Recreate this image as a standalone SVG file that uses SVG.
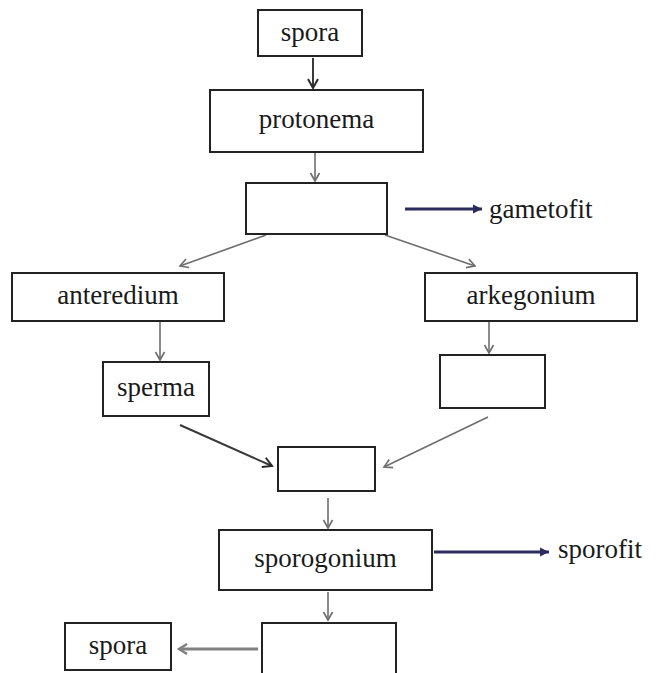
<svg xmlns="http://www.w3.org/2000/svg" width="657" height="673" viewBox="0 0 657 673">
<style>
.box{fill:#fff;stroke:#222;stroke-width:2}
.t{font-family:"Liberation Serif","Times New Roman",serif;font-size:27px;fill:#1a1a1a;text-anchor:middle}
.lbl{font-family:"Liberation Serif","Times New Roman",serif;font-size:27px;fill:#1a1a1a}
.g{stroke:#6e6e6e;stroke-width:1.6;fill:none;marker-end:url(#mg)}
.d{stroke:#3a3a3a;stroke-width:2;fill:none;marker-end:url(#md)}
.n{stroke:#2b2b5e;stroke-width:3;fill:none;marker-end:url(#mn)}
.gt{stroke:#808080;stroke-width:3.2;fill:none;marker-end:url(#mgt)}
</style>
<defs>
<marker id="mg" markerUnits="userSpaceOnUse" markerWidth="12" markerHeight="12" refX="10" refY="6" orient="auto"><path d="M2,1.5 L10,6 L2,10.5" fill="none" stroke="#6e6e6e" stroke-width="1.6"/></marker>
<marker id="md" markerUnits="userSpaceOnUse" markerWidth="14" markerHeight="14" refX="11" refY="7" orient="auto"><path d="M2,2 L11,7 L2,12" fill="none" stroke="#2a2a2a" stroke-width="2"/></marker>
<marker id="mn" markerUnits="userSpaceOnUse" markerWidth="12" markerHeight="12" refX="10" refY="6" orient="auto"><path d="M1,1.5 L10,6 L1,10.5 Z" fill="#2b2b5e"/></marker>
<marker id="mgt" markerUnits="userSpaceOnUse" markerWidth="14" markerHeight="14" refX="11" refY="7" orient="auto"><path d="M3,2 L11,7 L3,12" fill="none" stroke="#808080" stroke-width="2.4"/></marker>
</defs>
<rect width="657" height="673" fill="#fff"/>
<g id="connectors">
<line class="d" x1="313" y1="58" x2="313" y2="88"/>
<line class="g" x1="315" y1="153" x2="315" y2="181"/>
<line class="n" x1="405" y1="209" x2="482" y2="209"/>
<line class="g" x1="266" y1="235" x2="180" y2="266"/>
<line class="g" x1="385" y1="235" x2="475" y2="266"/>
<line class="g" x1="160" y1="322" x2="160" y2="360"/>
<line class="g" x1="489" y1="322" x2="489" y2="353"/>
<line class="d" x1="180" y1="425" x2="272" y2="466"/>
<line class="g" x1="488" y1="417" x2="384" y2="467"/>
<line class="g" x1="328" y1="498" x2="328" y2="528"/>
<line class="n" x1="434" y1="552" x2="549" y2="552"/>
<line class="g" x1="328" y1="592" x2="328" y2="620"/>
<line class="gt" x1="258" y1="649" x2="179" y2="649"/>
</g>
<g id="spora-top"><rect class="box" x="258" y="10" width="104" height="46"/><text class="t" x="310" y="41">spora</text></g>
<g id="protonema"><rect class="box" x="210" y="90" width="213" height="62"/><text class="t" x="316.5" y="128">protonema</text></g>
<g id="blank-1"><rect class="box" x="246" y="183" width="141" height="51"/></g>
<g id="gametofit"><text class="lbl" x="489" y="218">gametofit</text></g>
<g id="anteredium"><rect class="box" x="12" y="273" width="212" height="48"/><text class="t" x="118" y="304">anteredium</text></g>
<g id="arkegonium"><rect class="box" x="425" y="273" width="212" height="48"/><text class="t" x="531" y="304">arkegonium</text></g>
<g id="sperma"><rect class="box" x="103" y="362" width="106" height="54"/><text class="t" x="156" y="396">sperma</text></g>
<g id="blank-2"><rect class="box" x="440" y="355" width="105" height="53"/></g>
<g id="blank-3"><rect class="box" x="278" y="447" width="97" height="44"/></g>
<g id="sporogonium"><rect class="box" x="219" y="530" width="213" height="60"/><text class="t" x="325.5" y="567">sporogonium</text></g>
<g id="sporofit"><text class="lbl" x="558" y="558">sporofit</text></g>
<g id="blank-4"><rect class="box" x="262" y="623" width="134" height="60"/></g>
<g id="spora-bottom"><rect class="box" x="65" y="623" width="106" height="47"/><text class="t" x="118" y="654">spora</text></g>
</svg>
